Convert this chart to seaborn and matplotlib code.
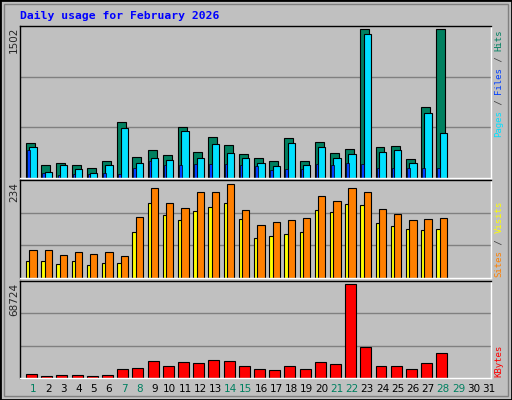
import numpy as np
import matplotlib
matplotlib.use("Agg")
import matplotlib.pyplot as plt
import seaborn as sns
from matplotlib.patches import Rectangle

days = list(range(1, 32))
hits = [350, 126, 156, 126, 105, 167, 564, 207, 279, 228, 513, 258, 411, 330,
        238, 197, 167, 401, 167, 360, 248, 289, 1502, 309, 319, 187, 717, 1502]
files = [309, 65, 126, 95, 54, 136, 503, 156, 197, 177, 472, 197, 340, 248,
         197, 156, 116, 350, 126, 309, 197, 238, 1451, 258, 279, 156, 656, 452]
pages = [279, 54, 34, 44, 44, 54, 44, 105, 167, 126, 126, 146, 146, 146,
         126, 116, 85, 95, 95, 146, 126, 156, 146, 105, 105, 105, 105, 105]
visits = [69, 71, 58, 64, 61, 64, 56, 153, 226, 188, 175, 214, 216, 234,
          170, 132, 140, 145, 150, 206, 193, 226, 216, 173, 160, 145, 148, 150]
sites = [43, 43, 36, 43, 33, 38, 38, 114, 188, 158, 145, 168, 178, 188,
         148, 99, 104, 109, 114, 170, 165, 186, 183, 137, 130, 122, 120, 122]
kbytes = [3260, 1756, 2508, 2508, 1756, 2508, 6270, 7023, 12290, 8528, 11537, 10785,
          13042, 12290, 8528, 6270, 5518, 8528, 6270, 11537, 10033, 68724, 22825,
          8528, 8528, 6270, 10785, 18310]
weekend = [1, 7, 8, 14, 15, 21, 22, 28, 29]

sns.set_style("white")
plt.rcParams["font.family"] = ["DejaVu Sans Mono"]

W, H = 512, 400
BG = "#c0c0c0"
fig = plt.figure(figsize=(W / 100, H / 100), dpi=100, facecolor=BG)


def px_axes(l, t, r, b):
    return fig.add_axes([l / W, 1 - b / H, (r - l) / W, (b - t) / H])


def style(ax, ymax):
    ax.set_facecolor(BG)
    ax.set_xlim(0.14, 31.14)
    ax.set_ylim(0, ymax)
    for y in (ymax / 3, 2 * ymax / 3):
        ax.axhline(y, color="#808080", lw=1, zorder=0)
    ax.set_yticks([])
    ax.set_xticks([])
    ax.spines["left"].set_color("black")
    ax.spines["top"].set_color("black")
    ax.spines["right"].set_color("white")
    ax.spines["bottom"].set_color("white")
    for s in ax.spines.values():
        s.set_linewidth(1)


n = len(hits)
x = np.arange(1, n + 1)
kw = dict(align="edge", edgecolor="black", linewidth=0.8)

ax1 = px_axes(20, 26, 491, 178)
style(ax1, 1532)
ax1.bar(x - 0.46, hits, width=0.59, color="#008060", **kw)
ax1.bar(x - 0.24, files, width=0.48, color="#00e0ff", **kw)
ax1.bar(x - 0.39, pages, width=0.17, color="#0040ff", align="edge", edgecolor="black", linewidth=0.5)

ax2 = px_axes(20, 180, 491, 278)
style(ax2, 245)
ax2.bar(x - 0.46, sites, width=0.5, color="#ffff00", **kw)
ax2.bar(x - 0.24, visits, width=0.48, color="#ff8000", **kw)

ax3 = px_axes(20, 281, 491, 378)
style(ax3, 71170)
ax3.bar(x - 0.46, kbytes, width=0.72, color="#ff0000", **kw)

# day labels
for d in days:
    fig.text((20 + (d - 0.14) * 471 / 31) / W, 1 - 389 / H, str(d),
             ha="center", va="center", fontsize=7.5, family="DejaVu Sans",
             color="#008060" if d in weekend else "black")

# max values on left
for txt, top in (("1502", 27), ("234", 182), ("68724", 283)):
    fig.text(9 / W, 1 - top / H, txt, rotation=90, ha="left", va="top",
             fontsize=7.5, family="DejaVu Sans")

fig.text(20 / W, 1 - 16 / H, "Daily usage for February 2026", color="#0000ff",
         fontsize=8.2, fontweight="bold", ha="left", va="center")


def side_label(parts, bottom, step):
    pos = 0
    for txt, col in parts:
        fig.text(499 / W, 1 - (bottom - pos * step) / H, txt, rotation=90,
                 ha="center", va="bottom", color=col, fontsize=6.5)
        pos += len(txt)


side_label([("Pages", "#00e0ff"), (" / ", "#404040"), ("Files", "#0040ff"),
            (" / ", "#404040"), ("Hits", "#008060")], 137, 5.35)
side_label([("Sites", "#ff8000"), (" / ", "#404040"), ("Visits", "#ffff00")], 277, 5.5)
side_label([("KBytes", "#ff0000")], 377, 5.5)

# frame
fig.patches.append(Rectangle((0, 0), 1, 1, transform=fig.transFigure, fill=False,
                             edgecolor="black", lw=2))
fig.patches.append(Rectangle((4 / W, 4 / H), 1 - 8 / W, 1 - 8 / H, transform=fig.transFigure,
                             fill=False, edgecolor="#808080", lw=1))

fig.savefig("out.png", dpi=100, facecolor=BG)
